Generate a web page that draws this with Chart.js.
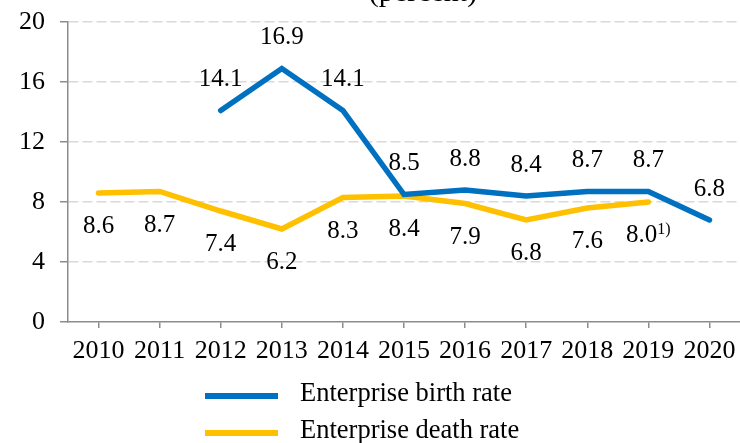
<!DOCTYPE html>
<html>
<head>
<meta charset="utf-8">
<script src="https://cdn.jsdelivr.net/npm/chart.js@4.4.0/dist/chart.umd.min.js"></script>
<style>
  html, body { margin: 0; padding: 0; background: #ffffff; }
  #wrap { width: 740px; height: 443px; position: relative; }
</style>
</head>
<body>
<div id="wrap"><canvas id="c" width="740" height="443"></canvas></div>
<script>
// ---- data ----
const years = ['2010', '2011', '2012', '2013', '2014', '2015', '2016', '2017', '2018', '2019', '2020'];
const birthRate = [null, null, 14.1, 16.9, 14.1, 8.5, 8.8, 8.4, 8.7, 8.7, 6.8];
const deathRate = [8.6, 8.7, 7.4, 6.2, 8.3, 8.4, 7.9, 6.8, 7.6, 8.0, null];
const deathNotes = ['', '', '', '', '', '', '', '', '', '1)', ''];
const seriesNames = ['Enterprise birth rate', 'Enterprise death rate'];
const yTicks = [0, 4, 8, 12, 16, 20];
const unitText = '(percent)';

const FONT = "'Liberation Serif', 'Times New Roman', serif";
const BLUE = '#0070C0';
const YELLOW = '#FFC000';
const AXIS = '#8c8c8c';
const GRID = '#d9d9d9';

const valueLabels = {
  id: 'valueLabels',
  afterDatasetsDraw(chart) {
    const ctx = chart.ctx;
    ctx.save();
    ctx.fillStyle = '#000';
    ctx.textBaseline = 'middle';
    chart.data.datasets.forEach((ds, di) => {
      const meta = chart.getDatasetMeta(di);
      const off = di === 0 ? -31 : 33.5;
      ds.data.forEach((v, i) => {
        if (v === null) return;
        const pt = meta.data[i];
        const main = v.toFixed(1);
        const note = di === 1 ? deathNotes[i] : '';
        ctx.font = '25px ' + FONT;
        const wMain = ctx.measureText(main).width;
        ctx.font = '16px ' + FONT;
        const wNote = note ? ctx.measureText(note).width : 0;
        const x0 = pt.x - (wMain + wNote) / 2;
        const y = pt.y + off;
        ctx.textAlign = 'left';
        ctx.font = '25px ' + FONT;
        ctx.fillText(main, x0, y);
        if (note) {
          ctx.font = '16px ' + FONT;
          ctx.fillText(note, x0 + wMain, y - 6);
        }
      });
    });
    ctx.restore();
  }
};

const extras = {
  id: 'extras',
  afterDraw(chart) {
    const ctx = chart.ctx;
    ctx.save();
    // cut-off unit line of the title
    ctx.fillStyle = '#000';
    ctx.font = '30px ' + FONT;
    ctx.textAlign = 'center';
    ctx.textBaseline = 'alphabetic';
    ctx.fillText(unitText, 423, 1);
    // legend (vertical list)
    const rows = [
      { name: seriesNames[0], color: chart.data.datasets[0].borderColor, y: 396 },
      { name: seriesNames[1], color: chart.data.datasets[1].borderColor, y: 433 }
    ];
    ctx.font = '26.5px ' + FONT;
    ctx.textAlign = 'left';
    ctx.textBaseline = 'alphabetic';
    rows.forEach(r => {
      ctx.strokeStyle = r.color;
      ctx.lineWidth = 6;
      ctx.lineCap = 'butt';
      ctx.beginPath();
      ctx.moveTo(205, r.y);
      ctx.lineTo(278, r.y);
      ctx.stroke();
      ctx.fillStyle = '#000';
      ctx.fillText(r.name, 300, r.y + 5);
    });
    ctx.restore();
  }
};

new Chart(document.getElementById('c'), {
  type: 'line',
  data: {
    labels: years,
    datasets: [
      { label: seriesNames[0], data: birthRate, borderColor: BLUE, backgroundColor: BLUE,
        borderWidth: 5.5, pointRadius: 0, tension: 0, borderCapStyle: 'round', spanGaps: false },
      { label: seriesNames[1], data: deathRate, borderColor: YELLOW, backgroundColor: YELLOW,
        borderWidth: 5.5, pointRadius: 0, tension: 0, borderCapStyle: 'round', spanGaps: false }
    ]
  },
  options: {
    responsive: false,
    animation: false,
    devicePixelRatio: 1,
    layout: { autoPadding: false, padding: { top: 22, left: 20, right: 0, bottom: 77 } },
    plugins: { legend: { display: false }, title: { display: false }, tooltip: { enabled: false } },
    scales: {
      x: {
        offset: true,
        afterFit(scale) { scale.height = 44; scale.paddingLeft = 0; scale.paddingRight = 0; },
        grid: { display: true, drawOnChartArea: false, drawTicks: true, tickLength: 6, tickColor: AXIS, lineWidth: 1.5, offset: false },
        border: { display: true, color: AXIS, width: 1.5 },
        ticks: { color: '#000', font: { family: FONT, size: 26 }, padding: 8, maxRotation: 0, autoSkip: false }
      },
      y: {
        min: 0, max: 20,
        afterBuildTicks(scale) { scale.ticks = yTicks.map(v => ({ value: v })); },
        afterFit(scale) { scale.width = 48; scale.paddingTop = 0; scale.paddingBottom = 0; },
        grid: {
          color: ctx => (ctx.tick && ctx.tick.value === 0) ? 'rgba(0,0,0,0)' : GRID,
          lineWidth: 1.5, drawTicks: true, tickLength: 8, tickColor: AXIS, tickBorderDash: [], tickWidth: 1.5
        },
        border: { display: true, color: AXIS, width: 1.5, dash: [10, 4] },
        ticks: { color: '#000', font: { family: FONT, size: 26 }, padding: 15 }
      }
    }
  },
  plugins: [valueLabels, extras]
});
</script>
</body>
</html>
